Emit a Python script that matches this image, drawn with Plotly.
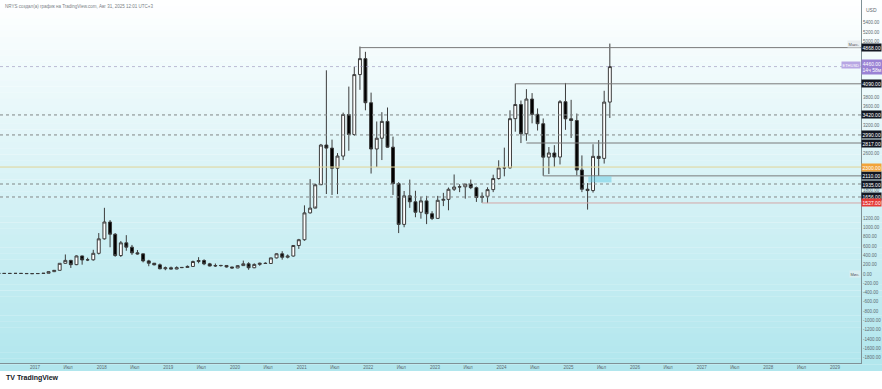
import plotly.graph_objects as go
import pandas as pd

# ---------------- data (monthly candles, Jun 2016 .. Aug 2025) ----------------
months = [str(p) for p in pd.period_range("2016-06", "2025-08", freq="M")]

opens = [14.0, 12.4, 11.4, 11.9, 13.2, 11.0, 8.6,
         8.0, 10.7, 15.7, 50.0, 79.0, 230, 293, 201, 388, 302, 305, 445,
         756, 1118, 855, 397, 670, 577, 455, 433, 282, 232, 197, 113,
         133, 107, 136, 141, 162, 268, 290, 218, 172, 180, 183, 151,
         130, 180, 219, 134, 206, 231, 226, 346, 435, 360, 386, 613,
         737, 1314, 1417, 1919, 2773, 2707, 2275, 2536, 3430, 3000, 4288, 4631,
         3683, 2688, 2920, 3282, 2727, 1943, 1067, 1680, 1553, 1328, 1572, 1296,
         1196, 1585, 1605, 1822, 1870, 1875, 1934, 1856, 1645, 1671, 1814, 2052,
         2281, 2283, 3340, 3645, 3015, 3762, 3433, 3232, 2513, 2602, 2515, 3705,
         3337, 3300, 2237, 1823, 1794, 2530, 2486, 3697]
highs = [21.5, 14.9, 12.9, 14.0, 13.4, 11.2, 8.9,
         11.3, 16.4, 53.0, 80.0, 230, 420, 303, 400, 394, 350, 520, 880,
         1423, 1160, 880, 710, 835, 625, 515, 437, 305, 235, 225, 160,
         160, 165, 145, 184, 288, 362, 317, 239, 225, 197, 193, 153,
         185, 288, 253, 228, 245, 252, 348, 445, 490, 420, 622, 755,
         1476, 2040, 1943, 2797, 4380, 2890, 2600, 3470, 4030, 4460, 4891, 4778,
         3900, 3280, 3480, 3580, 2955, 1975, 1785, 2030, 1790, 1660, 1680, 1350,
         1680, 1745, 1860, 2140, 1930, 1930, 2030, 1880, 1755, 1865, 2135, 2445,
         2717, 3520, 4094, 3730, 3975, 3890, 3560, 3345, 2730, 2770, 3740, 4108,
         3745, 3450, 2550, 1955, 2790, 2880, 3940, 4955]
lows = [10.4, 9.9, 10.2, 11.2, 10.5, 8.4, 6.8,
        7.9, 10.4, 15.5, 42.0, 78, 220, 130, 190, 200, 278, 286, 420,
        740, 575, 370, 366, 500, 410, 417, 250, 167, 187, 100, 81,
        100, 102, 128, 140, 160, 230, 190, 165, 152, 159, 139, 117,
        126, 180, 90, 125, 176, 215, 225, 335, 308, 336, 374, 540,
        715, 1300, 1456, 1930, 1720, 1700, 1718, 2450, 2650, 2970, 3960, 3520,
        2160, 2300, 2450, 2715, 1700, 880, 1005, 1422, 1220, 1190, 1073, 1160,
        1190, 1460, 1370, 1785, 1760, 1620, 1825, 1550, 1530, 1525, 1760, 2030,
        2100, 2265, 3060, 2815, 2865, 3240, 3085, 2112, 2150, 2305, 2355, 3100,
        2925, 2120, 1760, 1385, 1750, 2110, 2375, 3355]
closes = [12.4, 11.4, 11.9, 13.2, 11.0, 8.6, 8.0,
          10.7, 15.7, 50.0, 79.0, 230, 293, 201, 388, 302, 305, 445, 756,
          1118, 855, 397, 670, 577, 455, 433, 282, 232, 197, 113, 133,
          107, 136, 141, 162, 268, 290, 218, 172, 180, 183, 151, 130,
          180, 219, 134, 206, 231, 226, 346, 435, 360, 386, 613, 737,
          1314, 1417, 1919, 2773, 2707, 2275, 2536, 3430, 3000, 4288, 4631, 3683,
          2688, 2920, 3282, 2727, 1943, 1067, 1680, 1553, 1328, 1572, 1296, 1196,
          1585, 1605, 1822, 1870, 1875, 1934, 1856, 1645, 1671, 1814, 2052, 2281,
          2283, 3340, 3645, 3015, 3762, 3433, 3232, 2513, 2602, 2515, 3705, 3337,
          3300, 2237, 1823, 1794, 2530, 2486, 3697, 4460]

# horizontal levels drawn on the chart
solid_levels = [4868, 4090, 2817, 2110]
solid_level_starts = ["2021-11", "2024-03", "2024-05", "2024-08"]
dotted_levels = [3420, 2990, 1935, 1656]
yellow_level = 2300
red_level = 1527
red_level_start = "2023-09"
last_price = 4460
zone_top, zone_bottom = 2100, 1970
zone_start, zone_end = "2025-04-20", "2025-08-25"

year_ticks = list(range(2016, 2030))
ytick_vals = list(range(-1800, 5401, 200))

# ---------------- figure ----------------
def mid(m):
    return (pd.Period(m, "M").to_timestamp() + pd.Timedelta(days=15)).strftime("%Y-%m-%d")

xdates = [mid(m) for m in months]

fig = go.Figure()
fig.add_trace(go.Candlestick(
    x=xdates, open=opens, high=highs, low=lows, close=closes,
    increasing=dict(fillcolor="#ffffff", line=dict(color="#3c3c3c", width=1)),
    decreasing=dict(fillcolor="#000000", line=dict(color="#3c3c3c", width=1)),
    whiskerwidth=0, showlegend=False, hoverinfo="skip"))

W, H = 882, 389
ML, MR, MT, MB = 0, 21, 0, 26
PW, PH = W - ML - MR, H - MT - MB

shapes = []
# background gradient (white -> light cyan)
top_c = (255, 255, 255)
bot_c = (176, 230, 237)
N = 60
y_top_px, y_bot_px = 0, 371
for i in range(N):
    p0 = y_top_px + (y_bot_px - y_top_px) * i / N
    p1 = y_top_px + (y_bot_px - y_top_px) * (i + 1) / N
    t = (i + 0.5) / N
    c = tuple(int(round(top_c[k] + (bot_c[k] - top_c[k]) * t)) for k in range(3))
    shapes.append(dict(type="rect", xref="paper", yref="paper",
                       x0=-0.01, x1=W / PW + 0.01,
                       y0=1 - p1 / PH, y1=1 - p0 / PH + 0.0005,
                       fillcolor="rgb(%d,%d,%d)" % c, line=dict(width=0), layer="below"))

# dotted full-width levels
for v in dotted_levels:
    shapes.append(dict(type="line", xref="paper", yref="y", x0=0, x1=1, y0=v, y1=v,
                       line=dict(color="#808787", width=1, dash="dot")))
# last price line
shapes.append(dict(type="line", xref="paper", yref="y", x0=0, x1=1, y0=last_price, y1=last_price,
                   line=dict(color="rgba(165,160,195,0.7)", width=1, dash="dot")))
# yellow level
shapes.append(dict(type="line", xref="paper", yref="y", x0=0, x1=1, y0=yellow_level, y1=yellow_level,
                   line=dict(color="#e2d497", width=1)))
# solid levels from a start month
for v, s in zip(solid_levels, solid_level_starts):
    shapes.append(dict(type="line", xref="x", yref="y", x0=mid(s), x1="2030-12-31", y0=v, y1=v,
                       line=dict(color="#7a7a7a", width=1)))
# red level
shapes.append(dict(type="line", xref="x", yref="y", x0=mid(red_level_start), x1="2030-12-31",
                   y0=red_level, y1=red_level, line=dict(color="#d3a6a6", width=1)))
# zone rectangle
shapes.append(dict(type="rect", xref="x", yref="y", x0=zone_start, x1=zone_end,
                   y0=zone_bottom, y1=zone_top, fillcolor="rgba(110,205,230,0.55)",
                   line=dict(width=0)))

FONT = "Liberation Sans, Arial, sans-serif"
annotations = []

def price_box(v, bg, fg="#ffffff", text=None):
    annotations.append(dict(xref="paper", yref="y", x=1, y=v, xanchor="left", yanchor="middle",
                            text=text if text else "%.2f" % v, showarrow=False,
                            font=dict(size=5, color=fg, family=FONT),
                            bgcolor=bg, borderpad=0.6, xshift=0))

box_levels = solid_levels + dotted_levels + [yellow_level, red_level, last_price]
for v in solid_levels + dotted_levels:
    price_box(v, "#131722")
price_box(yellow_level, "#f2a33a")
price_box(red_level, "#e53935")
price_box(last_price, "#9a82d4", text="%.2f<br>14ч 58м" % last_price)
# tag for symbol on last price
annotations.append(dict(xref="paper", yref="y", x=1, y=last_price + 40, xanchor="right", yanchor="middle",
                        text="ETHUSD", showarrow=False, font=dict(size=4, color="#ffffff", family=FONT),
                        bgcolor="#b7a6e3", borderpad=0.5))
# max / min tags
annotations.append(dict(xref="paper", yref="y", x=1, y=max(highs), xanchor="right", yanchor="middle",
                        text="Макс.", showarrow=False, font=dict(size=4, color="#555555", family=FONT),
                        bgcolor="#e9eef0", borderpad=0.5))
annotations.append(dict(xref="paper", yref="y", x=1, y=min(lows), xanchor="right", yanchor="middle",
                        text="Мин.", showarrow=False, font=dict(size=4, color="#555555", family=FONT),
                        bgcolor="#d9eef1", borderpad=0.5))
# USD label
annotations.append(dict(xref="paper", yref="paper", x=1, y=1 - 10 / PH, xanchor="left", yanchor="middle",
                        xshift=3, text="USD", showarrow=False,
                        font=dict(size=5, color="#5d6a70", family=FONT)))
# header
annotations.append(dict(xref="paper", yref="paper", x=0, y=1, xanchor="left", yanchor="top",
                        xshift=3, yshift=-2,
                        text="NRYS создал(а) график на TradingView.com, Авг 31, 2025 12:01 UTC+3",
                        showarrow=False, font=dict(size=4.5, color="#7a7f86", family=FONT)))
# TradingView logo text
annotations.append(dict(xref="paper", yref="paper", x=0, y=-(378 - PH) / PH, xanchor="left",
                        yanchor="middle", xshift=4,
                        text="<b>TV</b> <b>TradingView</b>", showarrow=False,
                        font=dict(size=7, color="#131722", family=FONT)))

tickvals_x, ticktext_x = [], []
for y in year_ticks:
    tickvals_x.append("%d-01-01" % y)
    ticktext_x.append(str(y))
    tickvals_x.append("%d-07-01" % y)
    ticktext_x.append("Июл")

# y tick labels hidden where a price box covers them
ytick_text = []
for v in ytick_vals:
    covered = any(abs(v - b) < 130 for b in box_levels) or abs(v - last_price) < 200
    ytick_text.append("" if covered else "%.2f" % v)

fig.update_layout(
    width=W, height=H,
    margin=dict(l=ML, r=MR, t=MT, b=MB),
    paper_bgcolor="#ffffff",
    plot_bgcolor="rgba(0,0,0,0)",
    boxgap=0.18,
    shapes=shapes,
    annotations=annotations,
    font=dict(family=FONT),
    xaxis=dict(type="date", range=["2016-06-23", "2029-05-23"],
               rangeslider=dict(visible=False),
               tickvals=tickvals_x, ticktext=ticktext_x,
               tickfont=dict(size=4.5, color="#5d6a70"),
               showgrid=False, zeroline=False, ticks="", ticklen=0,
               showline=True, linecolor="#7f9196", linewidth=1, mirror=False),
    yaxis=dict(side="right", range=[-1914, 5892],
               tickvals=ytick_vals, ticktext=ytick_text,
               tickfont=dict(size=4.5, color="#5d6a70"),
               showgrid=False, zeroline=False, ticks="", ticklen=0,
               showline=True, linecolor="#7f9196", linewidth=1),
)

fig.write_html("out.html",
               config={"displayModeBar": False},
               post_script="document.body.style.margin='0';document.body.style.overflow='hidden';")
